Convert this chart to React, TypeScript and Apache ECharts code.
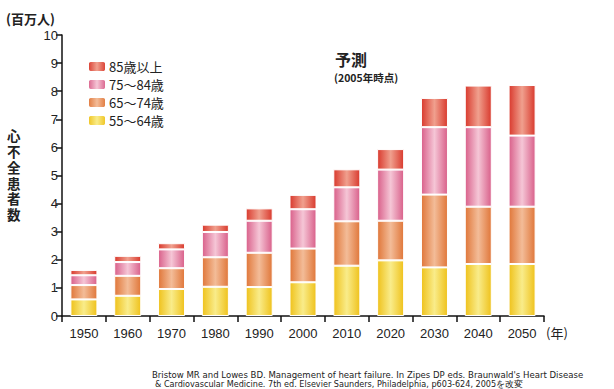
import React, { useEffect, useRef } from "react";
import * as echarts from "echarts";

const years = ["1950", "1960", "1970", "1980", "1990", "2000", "2010", "2020", "2030", "2040", "2050"];
const age55to64 = [0.59, 0.72, 0.96, 1.04, 1.03, 1.2, 1.79, 1.98, 1.73, 1.85, 1.85];
const age65to74 = [0.51, 0.71, 0.74, 1.05, 1.22, 1.2, 1.58, 1.41, 2.59, 2.04, 2.04];
const age75to84 = [0.35, 0.49, 0.67, 0.9, 1.14, 1.4, 1.21, 1.82, 2.4, 2.83, 2.53];
const age85plus = [0.19, 0.22, 0.22, 0.26, 0.44, 0.51, 0.64, 0.73, 1.04, 1.48, 1.8];
const seriesNames = ["55～64歳", "65～74歳", "75～84歳", "85歳以上"];
const yTitleChars = ["心", "不", "全", "患", "者", "数"];

const JP = '"Noto Sans CJK JP", "Noto Sans", sans-serif';
const NUM = '"Liberation Sans", Arial, sans-serif';
const CITE = '"DejaVu Sans Condensed", "Liberation Sans", sans-serif';

function grad(edge: string, mid: string) {
  return new echarts.graphic.LinearGradient(0, 0, 1, 0, [
    { offset: 0, color: edge },
    { offset: 0.5, color: mid },
    { offset: 1, color: edge },
  ]);
}

export default function App() {
  const ref = useRef<HTMLDivElement>(null);
  useEffect(() => {
    document.body.style.margin = "0";
    if (!ref.current) return;
    const chart = echarts.init(ref.current, null, { renderer: "svg" });
    const colors = [
      grad("#efc21c", "#f9ec8a"),
      grad("#e0773a", "#f3bc98"),
      grad("#d9608a", "#f5c6d6"),
      grad("#d93a2e", "#f0a08e"),
    ];
    const data = [age55to64, age65to74, age75to84, age85plus];
    chart.setOption({
      animation: false,
      backgroundColor: "#ffffff",
      grid: { left: 62, right: 70, top: 35, bottom: 73, containLabel: false },
      legend: {
        orient: "vertical",
        left: 82,
        top: 55,
        itemWidth: 18,
        itemHeight: 11,
        itemGap: 5,
        data: [seriesNames[3], seriesNames[2], seriesNames[1], seriesNames[0]],
        textStyle: { fontFamily: JP, fontSize: 13, color: "#222", padding: [0, 0, 0, -2] },
      },
      xAxis: {
        type: "category",
        data: years,
        axisLine: { show: true, lineStyle: { color: "#111", width: 1.5 } },
        axisTick: { show: true, length: 6, lineStyle: { color: "#111", width: 1.5 } },
        axisLabel: { fontFamily: NUM, fontSize: 13, color: "#222", margin: 11 },
      },
      yAxis: {
        type: "value",
        min: 0,
        max: 10,
        interval: 1,
        axisLine: { show: true, lineStyle: { color: "#111", width: 1.5 } },
        axisTick: { show: true, length: 6, lineStyle: { color: "#111", width: 1.5 } },
        axisLabel: { fontFamily: NUM, fontSize: 13, color: "#222", margin: 4 },
        splitLine: { show: false },
      },
      series: data.map((d, i) => ({
        name: seriesNames[i],
        type: "bar",
        stack: "total",
        barWidth: 27,
        data: d,
        itemStyle: { color: colors[i], borderColor: "#ffffff", borderWidth: 1 },
      })),
      graphic: [
        {
          type: "text",
          left: 6,
          top: 12,
          style: { text: "(百万人)", font: `bold 13px ${JP}`, fill: "#222" },
        },
        ...yTitleChars.map((ch, i) => ({
          type: "text",
          left: 7,
          top: 130 + i * 15.8,
          style: {
            text: ch,
            font: `bold 13.5px "Liberation Sans", "Noto Sans CJK JP", sans-serif`,
            lineHeight: 13.5,
            fill: "#222",
          },
        })),
        {
          type: "text",
          left: 335,
          top: 51,
          style: { text: "予測", font: `bold 16px ${JP}`, fill: "#222" },
        },
        {
          type: "text",
          left: 334,
          top: 72,
          style: { text: "(2005年時点)", font: `bold 10.5px ${JP}`, fill: "#222" },
        },
        {
          type: "text",
          left: 546,
          top: 326,
          style: { text: "(年)", font: `13px ${JP}`, fill: "#222" },
        },
        {
          type: "text",
          left: 152,
          top: 369,
          style: {
            text: "Bristow MR and Lowes BD. Management of heart failure. In Zipes DP eds. Braunwald's Heart Disease",
            font: `9.5px ${CITE}`,
            lineHeight: 10,
            fill: "#222",
          },
        },
        {
          type: "text",
          left: 155,
          top: 379,
          style: {
            text: "& Cardiovascular Medicine. 7th ed. Elsevier Saunders, Philadelphia, p603-624, 2005を改変",
            font: `9px ${CITE}`,
            lineHeight: 10,
            fill: "#222",
          },
        },
      ],
    });
    return () => chart.dispose();
  }, []);
  return <div ref={ref} style={{ width: 614, height: 389 }} />;
}
